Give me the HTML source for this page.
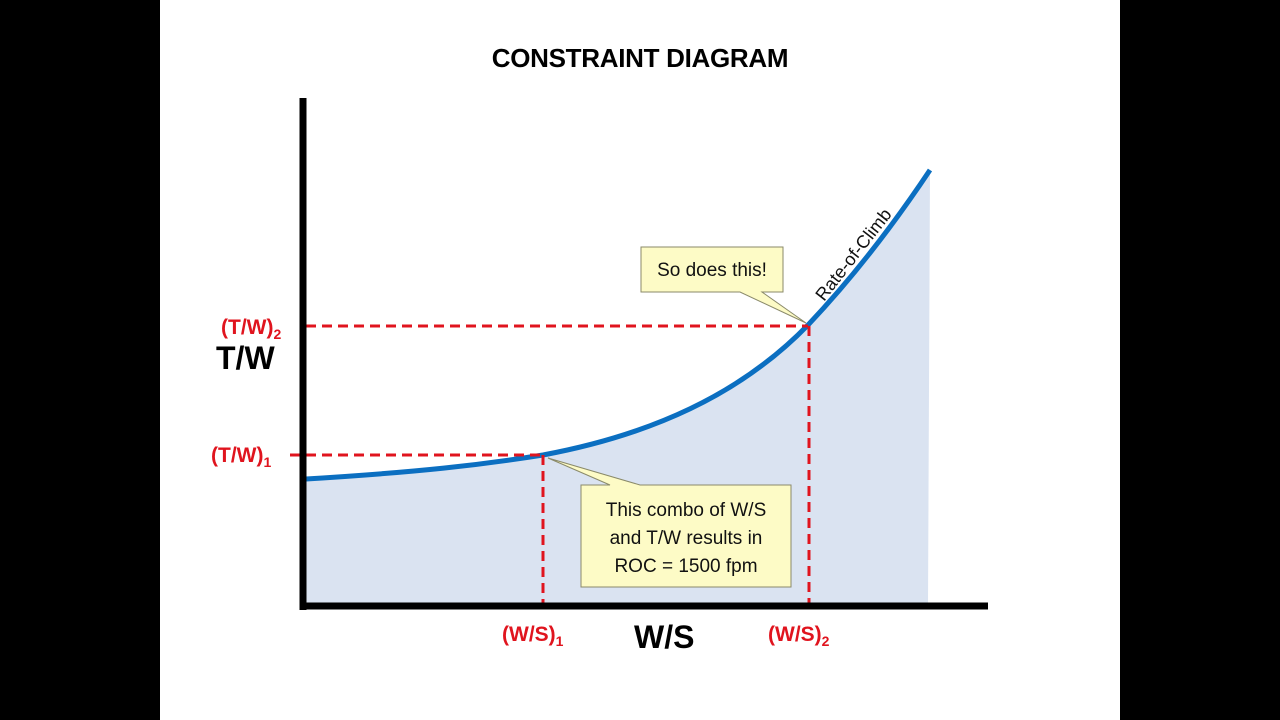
<!DOCTYPE html>
<html><head><meta charset="utf-8"><style>
body{margin:0;width:1280px;height:720px;background:#000;overflow:hidden}
svg{display:block}
text{font-family:"Liberation Sans",sans-serif}
</style></head><body>
<svg width="1280" height="720" viewBox="0 0 1280 720">
<rect x="160" y="0" width="960" height="720" fill="#fff"/>
<text x="640" y="67" text-anchor="middle" font-size="26" font-weight="bold" fill="#000" letter-spacing="-0.3">CONSTRAINT DIAGRAM</text>
<path d="M306,479 C420,472 480,465 543,455 C650,435 740,395 808,325 C860,270 900,215 930,170 L928,606 L306,606 Z" fill="#dae3f1"/>
<path d="M306,479 C420,472 480,465 543,455 C650,435 740,395 808,325 C860,270 900,215 930,170" fill="none" stroke="#0b6fc1" stroke-width="5"/>
<g stroke="#e0141e" stroke-width="3" stroke-dasharray="10,6" fill="none">
<line x1="306" y1="326" x2="808" y2="326"/>
<line x1="290" y1="455" x2="543" y2="455"/>
<line x1="543" y1="455" x2="543" y2="614"/>
<line x1="809" y1="326" x2="809" y2="614"/>
</g>
<line x1="303" y1="98" x2="303" y2="610" stroke="#000" stroke-width="7"/>
<line x1="300" y1="606" x2="988" y2="606" stroke="#000" stroke-width="7"/>
<path d="M581,485 L581,587 L791,587 L791,485 L640,485 L548,458 L610,485 Z" fill="#fdfbc6" stroke="#8a8a6a" stroke-width="1"/>
<text font-size="19" fill="#111" text-anchor="middle"><tspan x="686" y="516">This combo of W/S</tspan><tspan x="686" y="544">and T/W results in</tspan><tspan x="686" y="572">ROC = 1500 fpm</tspan></text>
<path d="M641,247 L783,247 L783,292 L762,292 L806,323 L740,292 L641,292 Z" fill="#fdfbc6" stroke="#8a8a6a" stroke-width="1"/>
<text x="712" y="276" font-size="19" fill="#111" text-anchor="middle">So does this!</text>
<text x="0" y="0" font-size="18" fill="#111" transform="translate(824,302) rotate(-52)">Rate-of-Climb</text>
<text x="216" y="369" font-size="32" font-weight="bold" fill="#000">T/W</text>
<text x="634" y="648" font-size="32" font-weight="bold" fill="#000">W/S</text>
<g font-size="21" font-weight="bold" fill="#e0141e">
<text x="221" y="334">(T/W)<tspan font-size="14" dy="5">2</tspan></text>
<text x="211" y="462">(T/W)<tspan font-size="14" dy="5">1</tspan></text>
<text x="502" y="641">(W/S)<tspan font-size="14" dy="5">1</tspan></text>
<text x="768" y="641">(W/S)<tspan font-size="14" dy="5">2</tspan></text>
</g>
</svg>
</body></html>
